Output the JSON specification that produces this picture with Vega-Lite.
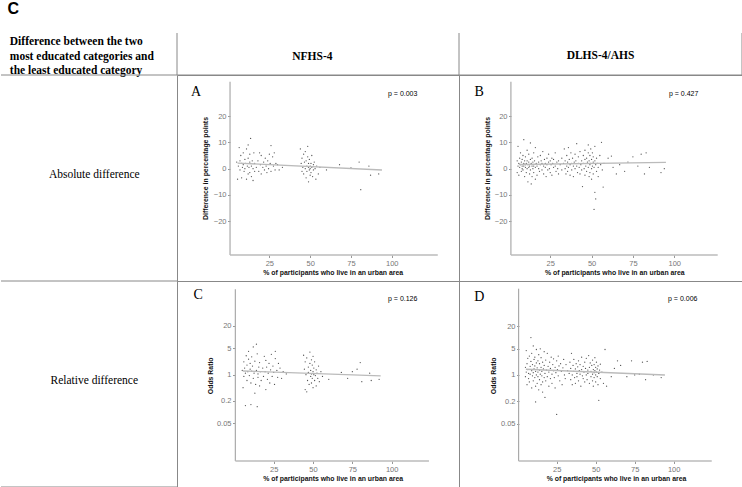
{
"$schema": "https://vega.github.io/schema/vega-lite/v6.json",
"padding": 0,
"background": "white",
"title": {"text": "C", "anchor": "start", "fontSize": 16, "fontWeight": "bold", "font": "Liberation Sans", "offset": 16, "dx": 7, "color": "#000"},
"config": {
  "view": {"stroke": null},
  "concat": {"spacing": 0},
  "font": "Liberation Sans",
  "axis": {"grid": false, "domain": false, "tickSize": 2.5, "tickColor": "#999", "labelFontSize": 7.5, "labelColor": "#777", "labelPadding": 1.5, "labelFont": "Liberation Sans", "titleFont": "Liberation Sans", "titleFontSize": 6.9, "titleFontWeight": "bold", "titleColor": "#111", "titleBaseline": "middle", "labelFlush": false, "labelOverlap": false}
},
"datasets": {
  "A": [{"x":5,"y":2.5},{"x":5.5,"y":-4},{"x":6,"y":1},{"x":6.5,"y":8},{"x":7,"y":3},{"x":7,"y":-0.5},{"x":7.5,"y":5},{"x":8,"y":2},{"x":8,"y":-3.5},{"x":8.5,"y":0.5},{"x":9,"y":6},{"x":9,"y":1.5},{"x":9.5,"y":-1},{"x":10,"y":3.5},{"x":10,"y":0},{"x":10.5,"y":2},{"x":11,"y":7.5},{"x":11,"y":-4},{"x":11.5,"y":1},{"x":12,"y":9},{"x":12,"y":4},{"x":12,"y":-2},{"x":12.5,"y":0.5},{"x":13,"y":5.5},{"x":13,"y":2.5},{"x":13,"y":-1.5},{"x":13.5,"y":11.5},{"x":14,"y":-3},{"x":14,"y":1},{"x":14.5,"y":3},{"x":15,"y":-4.5},{"x":15,"y":0},{"x":15.5,"y":6},{"x":16,"y":2},{"x":16,"y":-1},{"x":17,"y":0.5},{"x":18,"y":3},{"x":18.5,"y":-1},{"x":19,"y":6},{"x":19.5,"y":1.5},{"x":20,"y":-2},{"x":20,"y":5},{"x":21,"y":0.5},{"x":21.5,"y":2.5},{"x":22,"y":-0.5},{"x":22.5,"y":4},{"x":23,"y":1},{"x":23.5,"y":-1.5},{"x":24,"y":3},{"x":24.5,"y":0},{"x":25,"y":5.5},{"x":25.5,"y":2},{"x":26,"y":8.8},{"x":26,"y":-1},{"x":27,"y":4.5},{"x":27.5,"y":1},{"x":28,"y":6},{"x":28.5,"y":-0.5},{"x":29,"y":2},{"x":30,"y":1.5},{"x":31,"y":-0.5},{"x":33,"y":0.5},{"x":44,"y":7.5},{"x":44.5,"y":2},{"x":45,"y":4},{"x":45,"y":-1},{"x":45.5,"y":0.5},{"x":46,"y":5.5},{"x":46,"y":-2},{"x":46.5,"y":2.5},{"x":47,"y":6.5},{"x":47,"y":0},{"x":47.5,"y":-3.5},{"x":47.5,"y":3},{"x":48,"y":1},{"x":48,"y":-1},{"x":48.5,"y":8.5},{"x":48.5,"y":4.5},{"x":49,"y":0.5},{"x":49,"y":-5},{"x":49,"y":2},{"x":49.5,"y":-0.5},{"x":49.5,"y":3.5},{"x":50,"y":1},{"x":50,"y":-2.5},{"x":50,"y":0},{"x":50.5,"y":2},{"x":50.5,"y":-1.5},{"x":51,"y":5},{"x":51,"y":0.5},{"x":51.5,"y":-3},{"x":52,"y":1.5},{"x":52,"y":-0.5},{"x":52.5,"y":2.5},{"x":53,"y":0},{"x":53.5,"y":-4},{"x":54,"y":1},{"x":55,"y":-2},{"x":56,"y":0.5},{"x":60,"y":-0.5},{"x":68,"y":1.5},{"x":75,"y":0.3},{"x":80,"y":2.5},{"x":81,"y":-8},{"x":86,"y":1},{"x":87,"y":-2.5},{"x":92,"y":-2}],
  "B": [{"x":5,"y":3},{"x":5,"y":-1.5},{"x":5.5,"y":8.5},{"x":5.5,"y":1},{"x":6,"y":2},{"x":6,"y":-2.5},{"x":6.5,"y":4},{"x":6.5,"y":0.5},{"x":7,"y":1.5},{"x":7,"y":6},{"x":7.5,"y":-1},{"x":7.5,"y":2.5},{"x":8,"y":0},{"x":8,"y":3.5},{"x":8,"y":1},{"x":8.5,"y":5},{"x":8.5,"y":-0.5},{"x":9,"y":2},{"x":9,"y":11},{"x":9,"y":1},{"x":9.5,"y":-3},{"x":9.5,"y":3},{"x":10,"y":0.5},{"x":10,"y":4.5},{"x":10,"y":1.5},{"x":10.5,"y":-1.5},{"x":10.5,"y":2},{"x":11,"y":7},{"x":11,"y":0},{"x":11,"y":3},{"x":11.5,"y":1.5},{"x":11.5,"y":-5},{"x":12,"y":2.5},{"x":12,"y":5.5},{"x":12,"y":0.5},{"x":12.5,"y":-2},{"x":12.5,"y":1},{"x":13,"y":3.5},{"x":13,"y":9.8},{"x":13,"y":-0.5},{"x":13.5,"y":2},{"x":13.5,"y":-5.8},{"x":14,"y":1},{"x":14,"y":4},{"x":14,"y":-3},{"x":14.5,"y":0},{"x":14.5,"y":2.5},{"x":15,"y":6},{"x":15,"y":1},{"x":15,"y":-1.5},{"x":15.5,"y":3},{"x":16,"y":0.5},{"x":16,"y":-4},{"x":16,"y":8},{"x":16.5,"y":2},{"x":17,"y":-2.5},{"x":17,"y":1},{"x":17.5,"y":4.5},{"x":18,"y":0},{"x":18,"y":2.5},{"x":18.5,"y":-1},{"x":19,"y":1.5},{"x":19,"y":5},{"x":19.5,"y":3},{"x":20,"y":-0.5},{"x":20,"y":2},{"x":20.5,"y":6.5},{"x":21,"y":1},{"x":21,"y":-2},{"x":21.5,"y":3.5},{"x":22,"y":0.5},{"x":22,"y":2},{"x":22.5,"y":-3},{"x":23,"y":4},{"x":23,"y":1.5},{"x":23.5,"y":-0.5},{"x":24,"y":2.5},{"x":24,"y":5.5},{"x":24.5,"y":0},{"x":25,"y":3},{"x":25,"y":-1.5},{"x":25.5,"y":1.5},{"x":26,"y":4},{"x":26,"y":-2.5},{"x":26.5,"y":2},{"x":27,"y":0.5},{"x":27,"y":3.5},{"x":28,"y":1},{"x":28,"y":6},{"x":28.5,"y":-1},{"x":29,"y":2.5},{"x":29.5,"y":0},{"x":30,"y":3},{"x":30,"y":-2},{"x":31,"y":1.5},{"x":32,"y":4},{"x":32,"y":-0.5},{"x":33,"y":2},{"x":33.5,"y":7.5},{"x":34,"y":0},{"x":34,"y":3},{"x":34.5,"y":-2},{"x":35,"y":5},{"x":35,"y":1},{"x":35.5,"y":-1},{"x":35.5,"y":2.5},{"x":36,"y":8},{"x":36,"y":0.5},{"x":36.5,"y":3.5},{"x":37,"y":-2.5},{"x":37,"y":1.5},{"x":37.5,"y":6},{"x":38,"y":2},{"x":38,"y":-0.5},{"x":38.5,"y":4},{"x":39,"y":1},{"x":39,"y":-3},{"x":39.5,"y":2.5},{"x":40,"y":5.5},{"x":40,"y":0},{"x":40.5,"y":3},{"x":41,"y":1},{"x":41,"y":9.5},{"x":41.5,"y":-1.5},{"x":42,"y":2},{"x":42,"y":4.5},{"x":42.5,"y":0.5},{"x":43,"y":6.5},{"x":43,"y":-2},{"x":43.5,"y":1.5},{"x":44,"y":3},{"x":44,"y":-0.5},{"x":44.5,"y":-6.8},{"x":45,"y":2},{"x":45,"y":5},{"x":45.5,"y":0},{"x":46,"y":3.5},{"x":46,"y":7},{"x":46,"y":-2.5},{"x":46.5,"y":1},{"x":47,"y":4},{"x":47,"y":-1},{"x":47.5,"y":2.5},{"x":48,"y":6},{"x":48,"y":0.5},{"x":48,"y":9},{"x":48.5,"y":-3},{"x":48.5,"y":3},{"x":49,"y":1.5},{"x":49,"y":5},{"x":49,"y":-1.5},{"x":49.5,"y":2},{"x":49.5,"y":7.5},{"x":50,"y":0},{"x":50,"y":3.5},{"x":50,"y":-4},{"x":50.5,"y":1},{"x":50.5,"y":6},{"x":51,"y":2.5},{"x":51,"y":-2},{"x":51,"y":4.5},{"x":51.5,"y":-15.5},{"x":51.5,"y":0.5},{"x":52,"y":3},{"x":52,"y":-9},{"x":52,"y":8.5},{"x":52.5,"y":1.5},{"x":52.5,"y":-11.5},{"x":53,"y":-1},{"x":53,"y":4},{"x":53.5,"y":2},{"x":54,"y":-3},{"x":54,"y":0.5},{"x":55,"y":5},{"x":55.5,"y":1.5},{"x":56,"y":10},{"x":56.5,"y":-0.5},{"x":57,"y":-7},{"x":57.5,"y":2},{"x":60,"y":4},{"x":62,"y":4.8},{"x":63,"y":0.5},{"x":65,"y":-2},{"x":67,"y":1.5},{"x":70,"y":-1},{"x":72,"y":2.5},{"x":75,"y":4.5},{"x":78,"y":1},{"x":80,"y":5.5},{"x":82,"y":-2},{"x":83,"y":6},{"x":85,"y":0.5},{"x":92,"y":-1.5},{"x":94,"y":0}],
  "C": [{"x":5,"y":1.3},{"x":5.5,"y":0.45},{"x":6,"y":2.2},{"x":6,"y":0.9},{"x":6.5,"y":1.5},{"x":7,"y":0.15},{"x":7,"y":1.1},{"x":7.5,"y":3.2},{"x":8,"y":1.8},{"x":8,"y":0.7},{"x":8.5,"y":1.2},{"x":9,"y":4.2},{"x":9,"y":2.6},{"x":9.5,"y":0.95},{"x":10,"y":1.4},{"x":10,"y":2},{"x":10.5,"y":0.16},{"x":10.5,"y":0.6},{"x":11,"y":1.25},{"x":11,"y":3},{"x":11.5,"y":1.7},{"x":12,"y":0.8},{"x":12,"y":5.5},{"x":12.5,"y":1.1},{"x":13,"y":2.3},{"x":13,"y":0.32},{"x":13.5,"y":0.55},{"x":14,"y":6.5},{"x":14,"y":1.3},{"x":14.5,"y":0.14},{"x":14.5,"y":3.6},{"x":15,"y":0.85},{"x":15,"y":1.05},{"x":15.5,"y":1.6},{"x":16,"y":0.5},{"x":16,"y":2.1},{"x":16.5,"y":1.2},{"x":17,"y":0.7},{"x":18,"y":1.5},{"x":18.5,"y":0.9},{"x":19,"y":3.1},{"x":19.5,"y":1.2},{"x":20,"y":0.4},{"x":20,"y":2.4},{"x":20.5,"y":1.6},{"x":21,"y":0.75},{"x":21.5,"y":1.1},{"x":22,"y":2},{"x":22.5,"y":0.6},{"x":23,"y":1.35},{"x":23.5,"y":3.5},{"x":24,"y":0.9},{"x":24.5,"y":1.7},{"x":25,"y":1.15},{"x":25.5,"y":0.55},{"x":26,"y":2.7},{"x":26,"y":4.2},{"x":27,"y":1.3},{"x":27.5,"y":0.85},{"x":28,"y":2},{"x":29,"y":1.5},{"x":30,"y":0.8},{"x":31,"y":1.2},{"x":33,"y":1.05},{"x":44,"y":3.3},{"x":44.5,"y":1.4},{"x":45,"y":0.4},{"x":45,"y":2.2},{"x":45.5,"y":1},{"x":46,"y":0.35},{"x":46,"y":2.8},{"x":46.5,"y":0.7},{"x":47,"y":1.6},{"x":47,"y":1.15},{"x":47.5,"y":0.55},{"x":48,"y":4},{"x":48,"y":2},{"x":48.5,"y":0.9},{"x":48.5,"y":1.3},{"x":49,"y":0.6},{"x":49,"y":2.5},{"x":49,"y":1.05},{"x":49.5,"y":0.8},{"x":49.5,"y":1.8},{"x":50,"y":1.2},{"x":50,"y":0.45},{"x":50,"y":3.1},{"x":50.5,"y":1},{"x":50.5,"y":1.5},{"x":51,"y":0.7},{"x":51,"y":2.2},{"x":51.5,"y":0.95},{"x":52,"y":1.35},{"x":52,"y":0.5},{"x":52.5,"y":1.1},{"x":53,"y":0.8},{"x":53.5,"y":1.7},{"x":54,"y":0.65},{"x":55,"y":1.2},{"x":56,"y":0.9},{"x":60,"y":0.75},{"x":68,"y":1.15},{"x":72,"y":0.8},{"x":75,"y":1.2},{"x":78,"y":1.4},{"x":80,"y":2.1},{"x":81,"y":0.65},{"x":86,"y":1.1},{"x":87,"y":0.7},{"x":92,"y":0.75}],
  "D": [{"x":5,"y":1.6},{"x":5,"y":0.9},{"x":5.5,"y":4.5},{"x":5.5,"y":1.2},{"x":6,"y":2},{"x":6,"y":0.55},{"x":6.5,"y":1.4},{"x":6.5,"y":2.8},{"x":7,"y":0.8},{"x":7,"y":1.1},{"x":7.5,"y":3.2},{"x":7.5,"y":0.65},{"x":8,"y":1.7},{"x":8,"y":1.05},{"x":8.5,"y":10},{"x":8.5,"y":2.3},{"x":9,"y":0.45},{"x":9,"y":1.3},{"x":9,"y":3.8},{"x":9.5,"y":0.95},{"x":9.5,"y":1.9},{"x":10,"y":6},{"x":10,"y":1.15},{"x":10,"y":0.7},{"x":10.5,"y":2.6},{"x":10.5,"y":1.45},{"x":11,"y":0.85},{"x":11,"y":1.75},{"x":11,"y":3},{"x":11.5,"y":0.5},{"x":11.5,"y":1.25},{"x":11.5,"y":0.19},{"x":12,"y":2.1},{"x":12,"y":1},{"x":12,"y":4.8},{"x":12.5,"y":0.6},{"x":12.5,"y":1.55},{"x":13,"y":2.4},{"x":13,"y":0.9},{"x":13,"y":1.2},{"x":13.5,"y":3.5},{"x":13.5,"y":0.4},{"x":14,"y":1.35},{"x":14,"y":0.75},{"x":14,"y":2},{"x":14.5,"y":1.05},{"x":14.5,"y":5},{"x":15,"y":0.55},{"x":15,"y":1.6},{"x":15,"y":2.9},{"x":15.5,"y":0.95},{"x":15.5,"y":1.25},{"x":16,"y":0.65},{"x":16,"y":2.2},{"x":16,"y":0.35},{"x":16.5,"y":1.45},{"x":17,"y":4.2},{"x":17,"y":0.85},{"x":17,"y":1.8},{"x":17.5,"y":0.25},{"x":17.5,"y":1.1},{"x":18,"y":2.5},{"x":18,"y":0.7},{"x":18.5,"y":1.35},{"x":19,"y":3.8},{"x":19,"y":0.9},{"x":19.5,"y":1.7},{"x":20,"y":0.5},{"x":20,"y":1.2},{"x":20.5,"y":2.2},{"x":21,"y":0.8},{"x":21,"y":1.5},{"x":21.5,"y":3},{"x":22,"y":1.05},{"x":22,"y":0.6},{"x":22.5,"y":1.9},{"x":23,"y":1.3},{"x":23,"y":2.7},{"x":23.5,"y":0.85},{"x":24,"y":1.6},{"x":24,"y":0.45},{"x":24.5,"y":1.15},{"x":25,"y":2.4},{"x":25,"y":0.088},{"x":25.5,"y":1.4},{"x":26,"y":0.95},{"x":26,"y":3.2},{"x":26.5,"y":1.75},{"x":27,"y":0.7},{"x":27.5,"y":2},{"x":28,"y":1.25},{"x":28.5,"y":0.55},{"x":29,"y":1.55},{"x":29.5,"y":2.6},{"x":30,"y":1},{"x":30.5,"y":0.8},{"x":31,"y":1.9},{"x":32,"y":1.3},{"x":33,"y":1.1},{"x":33.5,"y":2.2},{"x":34,"y":0.75},{"x":34,"y":1.5},{"x":34.5,"y":3.8},{"x":35,"y":1},{"x":35,"y":0.55},{"x":35.5,"y":1.8},{"x":36,"y":1.25},{"x":36,"y":2.6},{"x":36.5,"y":0.85},{"x":37,"y":1.45},{"x":37,"y":0.6},{"x":37.5,"y":2},{"x":38,"y":1.1},{"x":38,"y":0.9},{"x":38.5,"y":1.65},{"x":39,"y":0.7},{"x":39,"y":2.4},{"x":39.5,"y":1.3},{"x":40,"y":1.05},{"x":40,"y":1.9},{"x":40.5,"y":0.5},{"x":41,"y":1.4},{"x":41,"y":3},{"x":41.5,"y":0.95},{"x":42,"y":1.7},{"x":42,"y":0.8},{"x":42.5,"y":1.2},{"x":43,"y":2.2},{"x":43,"y":0.65},{"x":43.5,"y":1.5},{"x":44,"y":1},{"x":44,"y":2.8},{"x":44.5,"y":0.75},{"x":45,"y":1.35},{"x":45,"y":1.1},{"x":45.5,"y":3.3},{"x":46,"y":0.6},{"x":46,"y":1.6},{"x":46.5,"y":2.1},{"x":47,"y":0.9},{"x":47,"y":1.25},{"x":47.5,"y":1.8},{"x":48,"y":0.7},{"x":48,"y":1.05},{"x":48,"y":2.5},{"x":48.5,"y":1.4},{"x":48.5,"y":0.5},{"x":49,"y":1.15},{"x":49,"y":1.9},{"x":49,"y":0.85},{"x":49.5,"y":1.3},{"x":49.5,"y":2.9},{"x":50,"y":1},{"x":50,"y":0.65},{"x":50,"y":1.6},{"x":50.5,"y":1.2},{"x":50.5,"y":2.2},{"x":51,"y":0.9},{"x":51,"y":1.45},{"x":51.5,"y":0.55},{"x":51.5,"y":1.75},{"x":52,"y":0.21},{"x":52,"y":1.1},{"x":52.5,"y":1.35},{"x":53,"y":0.8},{"x":53,"y":1.95},{"x":54,"y":1.2},{"x":55,"y":0.6},{"x":56,"y":4.8},{"x":57,"y":0.5},{"x":60,"y":0.9},{"x":62,"y":1.5},{"x":64,"y":2.4},{"x":66,"y":1.8},{"x":70,"y":0.9},{"x":73,"y":2.4},{"x":75,"y":1},{"x":78,"y":1.05},{"x":80,"y":2.2},{"x":82,"y":0.75},{"x":83,"y":2.3},{"x":87,"y":1},{"x":92,"y":0.85}],
  "lineA": [{"x":5.5,"y":2.1},{"x":94,"y":-0.5}],
  "lineB": [{"x":6,"y":1.6},{"x":95,"y":2.4}],
  "lineC": [{"x":5.3,"y":1.26},{"x":93,"y":0.93}],
  "lineD": [{"x":5.3,"y":1.42},{"x":94.4,"y":1.0}],
  "one": [{}]
},
"spacing": 0,
"bounds": "flush",
"columns": 3,
"concat": [
    {"width": 176, "height": 42, "data": {"name": "one"}, "layer": [
      {"mark": {"type": "text", "align": "left", "baseline": "middle", "font": "Liberation Serif", "fontWeight": "bold", "fontSize": 11.5, "lineHeight": 14.5, "color": "#000"},
       "encoding": {"x": {"datum": 0.05, "type": "quantitative", "scale": {"domain": [0, 1]}, "axis": null}, "y": {"datum": 0.78, "type": "quantitative", "scale": {"domain": [0, 1]}, "axis": null}, "text": {"value": ["Difference between the two", "most educated categories and", "the least educated category"]}}},
      {"mark": {"type": "rule", "color": "#888", "strokeWidth": 1}, "encoding": {"x": {"datum": 0, "type": "quantitative"}, "x2": {"datum": 1}, "y": {"datum": 0, "type": "quantitative"}}},
      {"mark": {"type": "rule", "color": "#888", "strokeWidth": 1}, "encoding": {"x": {"datum": 1, "type": "quantitative"}, "y": {"datum": 0, "type": "quantitative"}, "y2": {"datum": 1}}}
    ]},
    {"width": 282, "height": 42, "data": {"name": "one"}, "layer": [
      {"mark": {"type": "text", "align": "center", "baseline": "middle", "font": "Liberation Serif", "fontWeight": "bold", "fontSize": 11.5, "color": "#000"},
       "encoding": {"x": {"datum": 0.48, "type": "quantitative", "scale": {"domain": [0, 1]}, "axis": null}, "y": {"datum": 0.42, "type": "quantitative", "scale": {"domain": [0, 1]}, "axis": null}, "text": {"value": "NFHS-4"}}},
      {"mark": {"type": "rule", "color": "#888", "strokeWidth": 1}, "encoding": {"x": {"datum": 0, "type": "quantitative"}, "x2": {"datum": 1}, "y": {"datum": 0, "type": "quantitative"}}},
      {"mark": {"type": "rule", "color": "#888", "strokeWidth": 1}, "encoding": {"x": {"datum": 1, "type": "quantitative"}, "y": {"datum": 0, "type": "quantitative"}, "y2": {"datum": 1}}}
    ]},
    {"width": 283, "height": 42, "data": {"name": "one"}, "layer": [
      {"mark": {"type": "text", "align": "center", "baseline": "middle", "font": "Liberation Serif", "fontWeight": "bold", "fontSize": 11.5, "color": "#000"},
       "encoding": {"x": {"datum": 0.5, "type": "quantitative", "scale": {"domain": [0, 1]}, "axis": null}, "y": {"datum": 0.45, "type": "quantitative", "scale": {"domain": [0, 1]}, "axis": null}, "text": {"value": "DLHS-4/AHS"}}},
      {"mark": {"type": "rule", "color": "#888", "strokeWidth": 1}, "encoding": {"x": {"datum": 0, "type": "quantitative"}, "x2": {"datum": 1}, "y": {"datum": 0, "type": "quantitative"}}},
      {"mark": {"type": "rule", "color": "#888", "strokeWidth": 1}, "encoding": {"x": {"datum": 1, "type": "quantitative"}, "y": {"datum": 0, "type": "quantitative"}, "y2": {"datum": 1}}}
    ]},
    {"width": 176, "height": 206, "data": {"name": "one"}, "layer": [
      {"mark": {"type": "text", "align": "center", "baseline": "middle", "font": "Liberation Serif", "fontSize": 11.5, "color": "#000"},
       "encoding": {"x": {"datum": 0.53, "type": "quantitative", "scale": {"domain": [0, 1]}, "axis": null}, "y": {"datum": 0.515, "type": "quantitative", "scale": {"domain": [0, 1]}, "axis": null}, "text": {"value": "Absolute difference"}}},
      {"mark": {"type": "rule", "color": "#888", "strokeWidth": 1}, "encoding": {"x": {"datum": 0, "type": "quantitative"}, "x2": {"datum": 1}, "y": {"datum": 0, "type": "quantitative"}}}
    ]},
    {"width": 282, "height": 206, "view": {"stroke": "#888", "strokeWidth": 1}, "layer": [
      {"data": {"name": "A"}, "mark": {"type": "circle", "size": 1.6, "color": "#333", "opacity": 0.85},
       "encoding": {
         "x": {"field": "x", "type": "quantitative", "scale": {"domain": [-31.6, 141.2], "nice": false, "zero": false},
               "axis": {"values": [25, 50, 75, 100], "offset": -26, "title": "% of participants who live in an urban area", "titleX": 155.7, "titleY": 17}},
         "y": {"field": "y", "type": "quantitative", "scale": {"domain": [-42.7, 35.6], "nice": false, "zero": false},
               "axis": {"values": [-20, -10, 0, 10, 20], "offset": -53, "title": "Difference in percentage points", "titleX": -25, "titleY": 93, "titleAlign": "center"}}}},
      {"data": {"name": "lineA"}, "mark": {"type": "line", "color": "#bbb", "strokeWidth": 1.4}, "encoding": {"x": {"field": "x", "type": "quantitative"}, "y": {"field": "y", "type": "quantitative"}}},
      {"data": {"name": "one"}, "mark": {"type": "rule", "color": "#aaa", "strokeWidth": 1.2}, "encoding": {"x": {"datum": 0.9, "type": "quantitative"}, "y": {"datum": -32.8, "type": "quantitative"}, "y2": {"datum": 33}}},
      {"data": {"name": "one"}, "mark": {"type": "rule", "color": "#bbb", "strokeWidth": 1.5}, "encoding": {"x": {"datum": 0.9, "type": "quantitative"}, "x2": {"datum": 128.2}, "y": {"datum": -32.8, "type": "quantitative"}}},
      {"data": {"name": "one"}, "mark": {"type": "text", "font": "Liberation Serif", "fontSize": 14, "color": "#000", "align": "center", "baseline": "middle"}, "encoding": {"x": {"datum": -19.9, "type": "quantitative"}, "y": {"datum": 29.2, "type": "quantitative"}, "text": {"value": "A"}}},
      {"data": {"name": "one"}, "mark": {"type": "text", "font": "Liberation Sans", "fontSize": 7, "color": "#000", "align": "center", "baseline": "middle"}, "encoding": {"x": {"datum": 106.7, "type": "quantitative"}, "y": {"datum": 28.3, "type": "quantitative"}, "text": {"value": "p = 0.003"}}}
    ]},
    {"width": 283, "height": 206, "view": {"stroke": "#888", "strokeWidth": 1}, "layer": [
      {"data": {"name": "B"}, "mark": {"type": "circle", "size": 1.6, "color": "#333", "opacity": 0.85},
       "encoding": {
         "x": {"field": "x", "type": "quantitative", "scale": {"domain": [-30.2, 141], "nice": false, "zero": false},
               "axis": {"values": [25, 50, 75, 100], "offset": -26, "title": "% of participants who live in an urban area", "titleX": 155.3, "titleY": 17}},
         "y": {"field": "y", "type": "quantitative", "scale": {"domain": [-42.7, 35.6], "nice": false, "zero": false},
               "axis": {"values": [-20, -10, 0, 10, 20], "offset": -52, "title": "Difference in percentage points", "titleX": -24, "titleY": 93, "titleAlign": "center"}}}},
      {"data": {"name": "lineB"}, "mark": {"type": "line", "color": "#bbb", "strokeWidth": 1.4}, "encoding": {"x": {"field": "x", "type": "quantitative"}, "y": {"field": "y", "type": "quantitative"}}},
      {"data": {"name": "one"}, "mark": {"type": "rule", "color": "#aaa", "strokeWidth": 1.2}, "encoding": {"x": {"datum": 1.2, "type": "quantitative"}, "y": {"datum": -32.8, "type": "quantitative"}, "y2": {"datum": 33}}},
      {"data": {"name": "one"}, "mark": {"type": "rule", "color": "#bbb", "strokeWidth": 1.5}, "encoding": {"x": {"datum": 1.2, "type": "quantitative"}, "x2": {"datum": 126.3}, "y": {"datum": -32.8, "type": "quantitative"}}},
      {"data": {"name": "one"}, "mark": {"type": "text", "font": "Liberation Serif", "fontSize": 14, "color": "#000", "align": "center", "baseline": "middle"}, "encoding": {"x": {"datum": -18, "type": "quantitative"}, "y": {"datum": 29.2, "type": "quantitative"}, "text": {"value": "B"}}},
      {"data": {"name": "one"}, "mark": {"type": "text", "font": "Liberation Sans", "fontSize": 7, "color": "#000", "align": "center", "baseline": "middle"}, "encoding": {"x": {"datum": 105.7, "type": "quantitative"}, "y": {"datum": 28.3, "type": "quantitative"}, "text": {"value": "p = 0.427"}}}
    ]},
    {"width": 176, "height": 206, "data": {"name": "one"}, "layer": [
      {"mark": {"type": "text", "align": "center", "baseline": "middle", "font": "Liberation Serif", "fontSize": 11.5, "color": "#000"},
       "encoding": {"x": {"datum": 0.53, "type": "quantitative", "scale": {"domain": [0, 1]}, "axis": null}, "y": {"datum": 0.515, "type": "quantitative", "scale": {"domain": [0, 1]}, "axis": null}, "text": {"value": "Relative difference"}}},
      {"mark": {"type": "rule", "color": "#888", "strokeWidth": 1}, "encoding": {"x": {"datum": 0, "type": "quantitative"}, "x2": {"datum": 1}, "y": {"datum": 0, "type": "quantitative"}}}
    ]},
    {"width": 282, "height": 206, "view": {"stroke": "#888", "strokeWidth": 1}, "layer": [
      {"data": {"name": "C"}, "mark": {"type": "circle", "size": 1.6, "color": "#333", "opacity": 0.85},
       "encoding": {
         "x": {"field": "x", "type": "quantitative", "scale": {"domain": [-36.5, 142.8], "nice": false, "zero": false},
               "axis": {"values": [25, 50, 75, 100], "offset": -26, "title": "% of participants who live in an urban area", "titleX": 155.7, "titleY": 17}},
         "y": {"field": "y", "type": "quantitative", "scale": {"type": "log", "domain": [0.00101, 315.5], "nice": false},
               "axis": {"values": [0.05, 0.2, 1, 5, 20], "format": "~g", "offset": -58, "title": "Odds Ratio", "titleX": -25, "titleY": 94.3, "titleAlign": "center"}}}},
      {"data": {"name": "lineC"}, "mark": {"type": "line", "color": "#bbb", "strokeWidth": 1.4}, "encoding": {"x": {"field": "x", "type": "quantitative"}, "y": {"field": "y", "type": "quantitative"}}},
      {"data": {"name": "one"}, "mark": {"type": "rule", "color": "#aaa", "strokeWidth": 1.2}, "encoding": {"x": {"datum": 0.6, "type": "quantitative"}, "y": {"datum": 0.005, "type": "quantitative"}, "y2": {"datum": 190}}},
      {"data": {"name": "one"}, "mark": {"type": "rule", "color": "#bbb", "strokeWidth": 1.5}, "encoding": {"x": {"datum": 0.6, "type": "quantitative"}, "x2": {"datum": 123.7}, "y": {"datum": 0.005, "type": "quantitative"}}},
      {"data": {"name": "one"}, "mark": {"type": "text", "font": "Liberation Serif", "fontSize": 14, "color": "#000", "align": "center", "baseline": "middle"}, "encoding": {"x": {"datum": -23, "type": "quantitative"}, "y": {"datum": 131, "type": "quantitative"}, "text": {"value": "C"}}},
      {"data": {"name": "one"}, "mark": {"type": "text", "font": "Liberation Sans", "fontSize": 7, "color": "#000", "align": "center", "baseline": "middle"}, "encoding": {"x": {"datum": 107, "type": "quantitative"}, "y": {"datum": 102, "type": "quantitative"}, "text": {"value": "p = 0.126"}}}
    ]},
    {"width": 283, "height": 206, "view": {"stroke": "#888", "strokeWidth": 1}, "layer": [
      {"data": {"name": "D"}, "mark": {"type": "circle", "size": 1.6, "color": "#333", "opacity": 0.85},
       "encoding": {
         "x": {"field": "x", "type": "quantitative", "scale": {"domain": [-37.6, 143.8], "nice": false, "zero": false},
               "axis": {"values": [25, 50, 75, 100], "offset": -26, "title": "% of participants who live in an urban area", "titleX": 157, "titleY": 17}},
         "y": {"field": "y", "type": "quantitative", "scale": {"type": "log", "domain": [0.00101, 326], "nice": false},
               "axis": {"values": [0.05, 0.2, 1, 5, 20], "format": "~g", "offset": -60, "title": "Odds Ratio", "titleX": -26, "titleY": 94.3, "titleAlign": "center"}}}},
      {"data": {"name": "lineD"}, "mark": {"type": "line", "color": "#bbb", "strokeWidth": 1.4}, "encoding": {"x": {"field": "x", "type": "quantitative"}, "y": {"field": "y", "type": "quantitative"}}},
      {"data": {"name": "one"}, "mark": {"type": "rule", "color": "#aaa", "strokeWidth": 1.2}, "encoding": {"x": {"datum": 0.6, "type": "quantitative"}, "y": {"datum": 0.005, "type": "quantitative"}, "y2": {"datum": 203}}},
      {"data": {"name": "one"}, "mark": {"type": "rule", "color": "#bbb", "strokeWidth": 1.5}, "encoding": {"x": {"datum": 0.6, "type": "quantitative"}, "x2": {"datum": 124.4}, "y": {"datum": 0.005, "type": "quantitative"}}},
      {"data": {"name": "one"}, "mark": {"type": "text", "font": "Liberation Serif", "fontSize": 14, "color": "#000", "align": "center", "baseline": "middle"}, "encoding": {"x": {"datum": -24.6, "type": "quantitative"}, "y": {"datum": 124, "type": "quantitative"}, "text": {"value": "D"}}},
      {"data": {"name": "one"}, "mark": {"type": "text", "font": "Liberation Sans", "fontSize": 7, "color": "#000", "align": "center", "baseline": "middle"}, "encoding": {"x": {"datum": 105.8, "type": "quantitative"}, "y": {"datum": 106, "type": "quantitative"}, "text": {"value": "p = 0.006"}}}
    ]}
]
}
